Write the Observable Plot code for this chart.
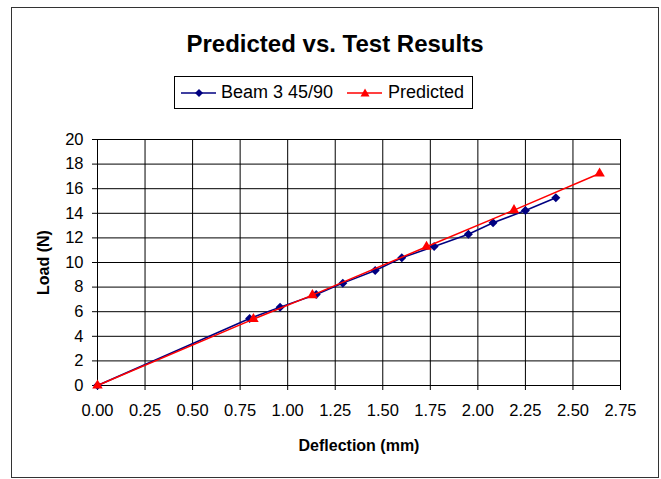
<!DOCTYPE html>
<html><head><meta charset="utf-8">
<script src="https://cdn.jsdelivr.net/npm/d3@7"></script>
<script src="https://cdn.jsdelivr.net/npm/@observablehq/plot@0.6"></script>
<style>
html,body{margin:0;padding:0;background:#fff;}
#wrap{position:relative;width:661px;height:479px;font-family:"Liberation Sans",Arial,sans-serif;}
#border{position:absolute;left:11px;top:7px;width:646px;height:469px;border:1.5px solid #333;box-sizing:content-box;}
#title{position:absolute;left:0;width:670px;top:32px;line-height:24px;text-align:center;font-weight:bold;font-size:24px;color:#000;}
#legend{position:absolute;left:174px;top:76px;width:299px;height:33px;border:1px solid #000;box-sizing:border-box;font-size:18px;}
#legend .sym{position:absolute;top:10px;}
#legend .txt{position:absolute;top:5px;line-height:20px;white-space:nowrap;}
#chart{position:absolute;left:0;top:0;}
g[aria-label="y-axis label"] text, g[aria-label="x-axis label"] text{font-weight:bold;font-size:16px;}
</style></head>
<body>
<div id="wrap">
  <div id="border"></div>
  <div id="chart"></div>
  <div id="title">Predicted vs. Test Results</div>
  <div id="legend"></div>
</div>
<script>
const beamX = [0, 0.80, 0.96, 1.15, 1.29, 1.46, 1.60, 1.77, 1.95, 2.08, 2.25, 2.41];
const beamY = [0, 5.45, 6.37, 7.40, 8.32, 9.35, 10.38, 11.30, 12.30, 13.23, 14.23, 15.26];
const predX = [0, 0.82, 1.13, 1.73, 2.19, 2.64];
const predY = [0, 5.40, 7.35, 11.28, 14.26, 17.24];
const xTicks = [0, 0.25, 0.5, 0.75, 1.0, 1.25, 1.5, 1.75, 2.0, 2.25, 2.5, 2.75];
const yTicks = [0, 2, 4, 6, 8, 10, 12, 14, 16, 18, 20];
const seriesNames = ["Beam 3 45/90", "Predicted"];
const colors = ["#000080", "#FF0000"];

const beam = beamX.map((x, i) => ({x, y: beamY[i]}));
const pred = predX.map((x, i) => ({x, y: predY[i]}));

const chart = Plot.plot({
  width: 661, height: 479,
  marginLeft: 97, marginRight: 41, marginTop: 139, marginBottom: 94,
  style: {fontFamily: "'Liberation Sans', Arial, sans-serif", fontSize: "16.5px", color: "#000", background: "transparent"},
  x: {domain: [0, 2.75]},
  y: {domain: [0, 20]},
  marks: [
    Plot.gridX(xTicks, {stroke: "#000", strokeOpacity: 1, strokeWidth: 1}),
    Plot.gridY(yTicks, {stroke: "#000", strokeOpacity: 1, strokeWidth: 1}),
    Plot.axisX(xTicks, {tickFormat: d3.format(".2f"), tickSize: 5, tickPadding: 14, label: "Deflection (mm)", labelAnchor: "center", labelArrow: "none", labelOffset: 65}),
    Plot.axisY(yTicks, {tickSize: 5, tickPadding: 9, label: "Load (N)", labelAnchor: "center", labelArrow: "none", labelOffset: 60}),
    Plot.frame({stroke: "#000", strokeWidth: 1}),
    Plot.line(beam, {x: "x", y: "y", stroke: colors[0], strokeWidth: 1.5}),
    Plot.dot(beam, {x: "x", y: "y", symbol: "square", rotate: 45, r: 3.6, fill: colors[0], stroke: "none"}),
    Plot.line(pred, {x: "x", y: "y", stroke: colors[1], strokeWidth: 1.5}),
    Plot.dot(pred, {x: "x", y: "y", symbol: "triangle", r: 3.9, fill: colors[1], stroke: "none"})
  ]
});
document.getElementById("chart").appendChild(chart);

// legend
const legend = document.getElementById("legend");
const symLefts = [6, 172];
const txtLefts = [46, 213];
const ns = "http://www.w3.org/2000/svg";
seriesNames.forEach((name, i) => {
  const s = document.createElementNS(ns, "svg");
  s.setAttribute("class", "sym");
  s.style.left = symLefts[i] + "px";
  s.setAttribute("width", 36); s.setAttribute("height", 12);
  const l = document.createElementNS(ns, "line");
  l.setAttribute("x1", 0); l.setAttribute("x2", 35); l.setAttribute("y1", 6); l.setAttribute("y2", 6);
  l.setAttribute("stroke", colors[i]); l.setAttribute("stroke-width", 1.5);
  s.appendChild(l);
  const p = document.createElementNS(ns, "path");
  p.setAttribute("d", i === 0 ? "M18,2L22,6L18,10L14,6Z" : "M18,1.5L22.5,9.5L13.5,9.5Z");
  p.setAttribute("fill", colors[i]);
  s.appendChild(p);
  legend.appendChild(s);
  const t = document.createElement("div");
  t.className = "txt";
  t.style.left = txtLefts[i] + "px";
  t.textContent = name;
  legend.appendChild(t);
});
</script>
</body></html>
